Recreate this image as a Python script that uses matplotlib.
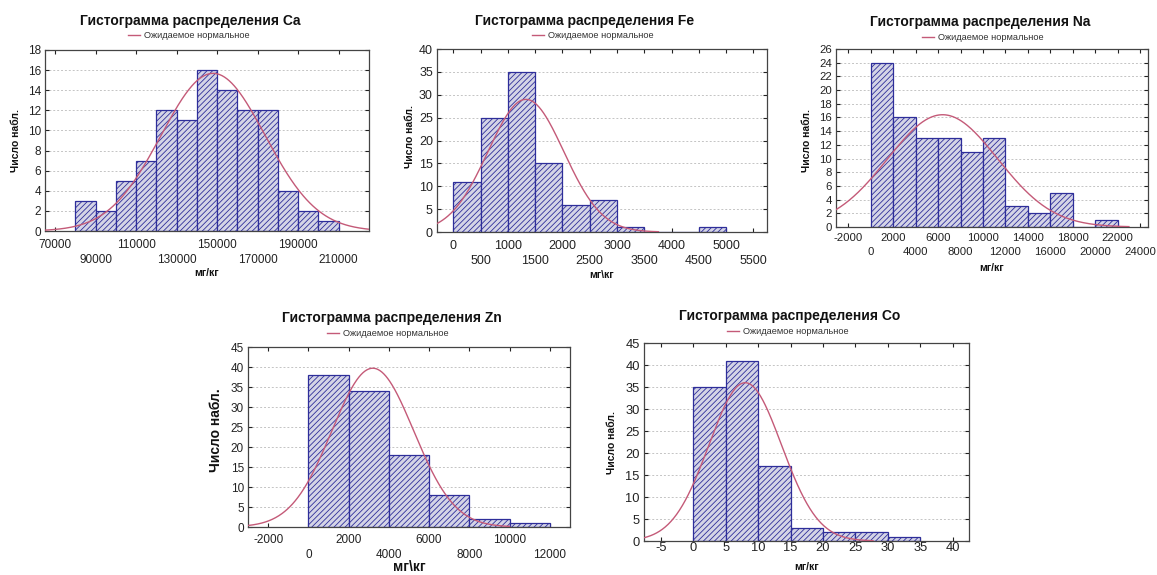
import numpy as np
import matplotlib
matplotlib.use("Agg")
import matplotlib.pyplot as plt
from matplotlib.lines import Line2D

plt.rcParams['font.family'] = ['Liberation Sans', 'DejaVu Sans']
plt.rcParams['hatch.linewidth'] = 0.6

W, H = 1157, 575

# ---------------- data ----------------
ca_start, ca_bin = 80000, 10000
ca_counts = [3, 2, 5, 7, 12, 11, 16, 14, 12, 12, 4, 2, 1]
ca_xticks = [70000, 90000, 110000, 130000, 150000, 170000, 190000, 210000]
ca_yticks = [0, 2, 4, 6, 8, 10, 12, 14, 16, 18]
ca_norm = dict(mean=148000, sd=25700, n=101)

fe_start, fe_bin = 0, 500
fe_counts = [11, 25, 35, 15, 6, 7, 1, 0, 0, 1]
fe_xticks = [0, 500, 1000, 1500, 2000, 2500, 3000, 3500, 4000, 4500, 5000, 5500]
fe_yticks = [0, 5, 10, 15, 20, 25, 30, 35, 40]
fe_norm = dict(mean=1330, sd=695, n=101)

na_start, na_bin = 0, 2000
na_counts = [24, 16, 13, 13, 11, 13, 3, 2, 5, 0, 1]
na_xticks = [-2000, 0, 2000, 4000, 6000, 8000, 10000, 12000, 14000, 16000,
             18000, 20000, 22000, 24000]
na_yticks = [0, 2, 4, 6, 8, 10, 12, 14, 16, 18, 20, 22, 24, 26]
na_norm = dict(mean=6400, sd=4914, n=101)

zn_start, zn_bin = 0, 2000
zn_counts = [38, 34, 18, 8, 2, 1]
zn_xticks = [-2000, 0, 2000, 4000, 6000, 8000, 10000, 12000]
zn_yticks = [0, 5, 10, 15, 20, 25, 30, 35, 40, 45]
zn_norm = dict(mean=3200, sd=2030, n=101)

co_start, co_bin = 0, 5
co_counts = [35, 41, 17, 3, 2, 2, 1]
co_xticks = [-5, 0, 5, 10, 15, 20, 25, 30, 35, 40]
co_yticks = [0, 5, 10, 15, 20, 25, 30, 35, 40, 45]
co_norm = dict(mean=8.0, sd=5.6, n=101)

title_prefix = "Гистограмма распределения "
legend_label = "Ожидаемое нормальное"
ylabel = "Число набл."

BAR_FACE = '#d4d4e6'
BAR_EDGE = '#2e2e9a'
CURVE = '#c45a78'
GRID = '#c4c4c4'

fig = plt.figure(figsize=(W / 100, H / 100), dpi=100)
fig.patch.set_facecolor('white')


def px_rect(x0, y0, x1, y1):
    return [x0 / W, 1 - y1 / H, (x1 - x0) / W, (y1 - y0) / H]


def fx(x):
    return x / W


def fy(y):
    return 1 - y / H


def panel(rect, start, binw, counts, xticks, yticks, xlim, norm, curve_rng,
          elem, title_xy, leg_xy, ylab_xy, xlab_y, xlab, tick_fs,
          pads, ytick_fs=None, ylab_fs=7.5, xlab_fs=7.5):
    ax = fig.add_axes(px_rect(*rect))
    edges = start + binw * np.arange(len(counts))
    ax.bar(edges, counts, width=binw, align='edge', facecolor=BAR_FACE,
           edgecolor=BAR_EDGE, linewidth=0.9, hatch='//////', zorder=2)
    xs = np.linspace(curve_rng[0], curve_rng[1], 400)
    ys = norm['n'] * binw / (norm['sd'] * np.sqrt(2 * np.pi)) * \
        np.exp(-0.5 * ((xs - norm['mean']) / norm['sd']) ** 2)
    ax.plot(xs, ys, color=CURVE, lw=1.0, zorder=3)
    ax.set_xlim(*xlim)
    ax.set_ylim(yticks[0], yticks[-1])
    ax.set_yticks(yticks)
    if pads[1] is not None:
        row1 = xticks[0::2]
        row2 = xticks[1::2]
        ax.set_xticks(row1)
        ax.set_xticklabels([str(t) for t in row1])
        ax.set_xticks(row2, minor=True)
        ax.set_xticklabels([str(t) for t in row2], minor=True)
    else:
        ax.set_xticks(xticks)
        ax.set_xticklabels([str(t) for t in xticks])
    ax.tick_params(axis='both', which='both', direction='in', length=3,
                   width=0.8, top=True, right=True, colors='#222222')
    ax.tick_params(axis='x', which='major', labelsize=tick_fs, pad=pads[0])
    if pads[1] is not None:
        ax.tick_params(axis='x', which='minor', labelsize=tick_fs,
                       pad=pads[1])
    ax.tick_params(axis='y', labelsize=ytick_fs or tick_fs, pad=3)
    ax.grid(axis='y', which='major', color=GRID, linestyle=(0, (2, 2)),
            lw=0.7, zorder=0)
    ax.set_axisbelow(True)
    for s in ax.spines.values():
        s.set_color('#444444')
        s.set_linewidth(0.9)
    # title
    fig.text(fx(title_xy[0]), fy(title_xy[1]), title_prefix + elem,
             ha='center', va='center', fontsize=10, fontweight='bold',
             color='#111111')
    # legend
    lx, ly = leg_xy
    fig.add_artist(Line2D([fx(lx), fx(lx + 12)], [fy(ly), fy(ly)],
                          color=CURVE, lw=1.0))
    fig.text(fx(lx + 16), fy(ly), legend_label, ha='left', va='center',
             fontsize=6.7, color='#333333')
    fig.text(fx(ylab_xy[0]), fy(ylab_xy[1]), ylabel, rotation=90,
             ha='center', va='center', fontsize=ylab_fs, fontweight='bold',
             color='#111111')
    xc = (rect[0] + rect[2]) / 2
    fig.text(fx(xc), fy(xlab_y), xlab, ha='center', va='center',
             fontsize=xlab_fs, fontweight='bold', color='#111111')
    return ax


panel((45, 50, 369, 231), ca_start, ca_bin, ca_counts, ca_xticks, ca_yticks,
      (65000, 225000), ca_norm, (65000, 225000), "Ca",
      (190, 21), (128, 35), (16, 140), 273, "мг/кг", 8.5,
      pads=(6, 16.8))

panel((437, 49, 767, 232), fe_start, fe_bin, fe_counts, fe_xticks, fe_yticks,
      (-300, 5750), fe_norm, (-300, 3760), "Fe",
      (585, 21), (532, 35), (410, 137), 275, "мг\\кг", 9,
      pads=(6, 16.8))

panel((836, 49, 1148, 227), na_start, na_bin, na_counts, na_xticks, na_yticks,
      (-3100, 24700), na_norm, (-3100, 23000), "Na",
      (980, 22), (922, 37), (807, 140), 268, "мг/кг", 8.2,
      pads=(4.5, 14.5), ytick_fs=8.2)

panel((248, 347, 570, 527), zn_start, zn_bin, zn_counts, zn_xticks, zn_yticks,
      (-3000, 13000), zn_norm, (-3000, 10000), "Zn",
      (392, 318), (327, 333), (216, 430), 567, "мг\\кг", 8.5,
      pads=(5, 15.5), ylab_fs=10, xlab_fs=10)

panel((644, 343, 969, 541), co_start, co_bin, co_counts, co_xticks, co_yticks,
      (-7.6, 42.5), co_norm, (-7.6, 27.7), "Co",
      (790, 316), (727, 331), (612, 443), 567, "мг/кг", 9.3,
      pads=(1, None))

fig.savefig("out.png", dpi=100, facecolor='white')
